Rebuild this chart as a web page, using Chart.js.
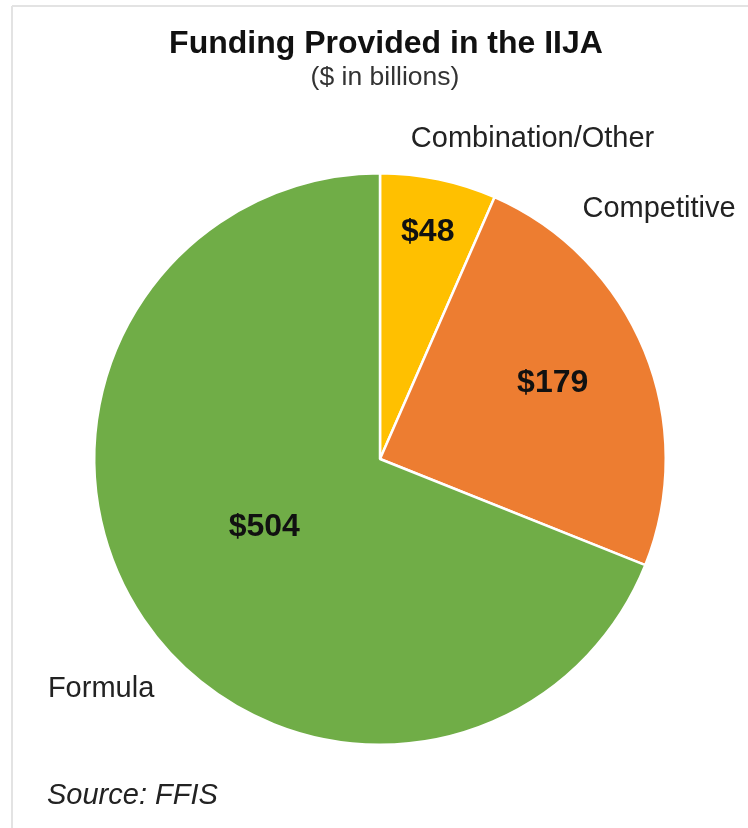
<!DOCTYPE html>
<html><head><meta charset="utf-8">
<script src="https://cdn.jsdelivr.net/npm/chart.js@4/dist/chart.umd.min.js"></script>
<style>html,body{margin:0;padding:0;background:#fff}#wrap{width:748px;height:828px;position:relative}</style>
</head><body><div id="wrap"><canvas id="c" width="748" height="828"></canvas></div>
<script>
const categories = ["Combination/Other", "Competitive", "Formula"];
const values = [48, 179, 504];
const valueLabels = ["$48", "$179", "$504"];
const colors = ["#FFC000", "#ED7D31", "#70AD47"];

// label placement styles (angle deg clockwise from top, radius factor)
const innerPos = [{a:11.9,r:0.81},{a:66.3,r:0.66},{a:239.5,r:0.47}];
const outerPos = [{a:25.5,r:1.24},{a:48.2,r:1.31},{a:230.5,r:1.265}];

const textPlugin = {
  id:'texts',
  beforeDraw(chart){
    const ctx = chart.ctx;
    ctx.save();
    ctx.fillStyle='#fff'; ctx.fillRect(0,0,chart.width,chart.height);
    ctx.strokeStyle='#e3e3e3'; ctx.lineWidth=2;
    ctx.beginPath(); ctx.moveTo(12,6); ctx.lineTo(748,6); ctx.moveTo(12,6); ctx.lineTo(12,828); ctx.stroke();
    ctx.restore();
  },
  afterDraw(chart){
    const ctx = chart.ctx;
    const meta = chart.getDatasetMeta(0);
    const arc0 = meta.data[0];
    const cx = arc0.x, cy = arc0.y, R = arc0.outerRadius;
    ctx.save();
    ctx.textAlign='center'; ctx.textBaseline='middle';
    ctx.fillStyle='#111';
    ctx.font='bold 32px "Liberation Sans", Arial, sans-serif';
    ctx.fillText("Funding Provided in the IIJA", 386, 44);
    ctx.fillStyle='#333';
    ctx.font='26.5px "Liberation Sans", Arial, sans-serif';
    ctx.fillText("($ in billions)", 385, 78);
    meta.data.forEach((arc,i)=>{
      const p = innerPos[i], q = outerPos[i];
      let ang = p.a*Math.PI/180;
      ctx.fillStyle='#111';
      ctx.font='bold 32px "Liberation Sans", Arial, sans-serif';
      ctx.fillText(valueLabels[i], cx + Math.sin(ang)*R*p.r, cy - Math.cos(ang)*R*p.r);
      ang = q.a*Math.PI/180;
      ctx.fillStyle='#222';
      ctx.font='29px "Liberation Sans", Arial, sans-serif';
      ctx.fillText(categories[i], cx + Math.sin(ang)*R*q.r, cy - Math.cos(ang)*R*q.r);
    });
    ctx.textAlign='left';
    ctx.fillStyle='#222';
    ctx.font='italic 29px "Liberation Sans", Arial, sans-serif';
    ctx.fillText("Source: FFIS", 47, 796);
    ctx.restore();
  }
};

new Chart(document.getElementById('c'), {
  type:'pie',
  data:{labels:categories, datasets:[{data:values, backgroundColor:colors, borderColor:'#fff', borderWidth:2.5, hoverOffset:0}]},
  options:{
    responsive:false, animation:false,
    layout:{padding:{left:93,right:81,top:172,bottom:82}},
    plugins:{legend:{display:false},tooltip:{enabled:false},title:{display:false}}
  },
  plugins:[textPlugin]
});
</script></body></html>
